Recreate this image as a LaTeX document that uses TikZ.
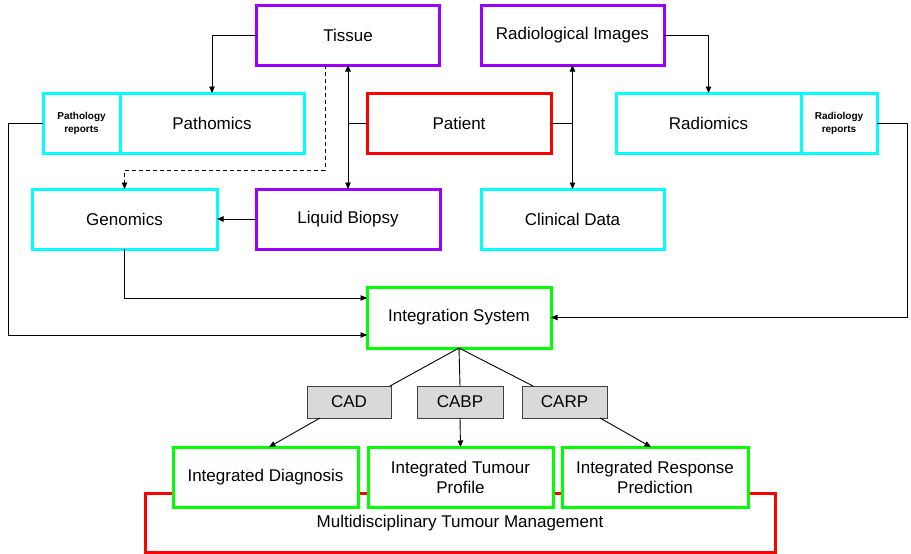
\documentclass[tikz,border=0pt]{standalone}
\usepackage{fontspec}
\setmainfont{Liberation Sans}
\usetikzlibrary{arrows.meta}
\definecolor{cyanb}{HTML}{00FFFF}
\definecolor{purpleb}{HTML}{9900FF}
\definecolor{greenb}{HTML}{00FF00}
\definecolor{redb}{HTML}{FF0000}
\definecolor{grayf}{HTML}{D9D9D9}
\definecolor{grayd}{HTML}{404040}
\begin{document}
\begin{tikzpicture}[x=1pt,y=-1pt,
  every node/.style={font=\fontsize{17}{20}\selectfont, align=center, inner sep=0pt, outer sep=0pt},
  box/.style={draw=#1, line width=3pt, fill=white, minimum width=184pt, minimum height=60pt},
  smallbox/.style={box=cyanb, font=\fontsize{10}{13}\selectfont\bfseries},
  algbox/.style={draw=grayd, line width=1pt, fill=grayf, minimum height=32pt},
  conn/.style={line width=0.9pt},
  arr/.style={conn, -{Triangle[length=6.5pt,width=5.5pt]}},
  darr/.style={conn, {Triangle[length=6.5pt,width=5.5pt]}-{Triangle[length=6.5pt,width=5.5pt]}}]
\useasboundingbox (0,0) rectangle (911,554);

% management frame behind the three outcome boxes
\draw[redb, line width=3pt] (145,493) rectangle (775,552);
\node (mdt) at (460,523) {Multidisciplinary Tumour Management};

% data sources
\node[box=purpleb, minimum width=183pt] (tissue) at (348,35) {Tissue};
\node[box=purpleb, minimum width=183pt] (radimg) at (572.5,35) {Radiological Images};
\node[box=redb] (patient) at (459,123) {Patient};
\node[box=purpleb] (liquid) at (348,219) {Liquid Biopsy};
\node[box=cyanb, minimum width=183pt] (clinical) at (572.5,219) {Clinical Data};
\node[box=cyanb, minimum width=185pt] (genomics) at (124.5,219) {Genomics};

% omics with attached reports
\node[box=cyanb] (pathomics) at (212,123) {Pathomics};
\node[smallbox, minimum width=77pt] (pathrep) at (81.5,123) {Pathology\\reports};
\node[box=cyanb, minimum width=185pt] (radiomics) at (708.5,123) {Radiomics};
\node[smallbox, minimum width=76pt] (radrep) at (839,123) {Radiology\\reports};

% integration and outputs
\node[box=greenb, minimum height=61pt] (integ) at (459,317.5) {Integration System};
\node[algbox, minimum width=84pt] (cad) at (349,402) {CAD};
\node[algbox, minimum width=86pt] (cabp) at (460,402) {CABP};
\node[algbox, minimum width=85pt] (carp) at (564.5,402) {CARP};
\node[box=greenb, minimum width=185pt] (idiag) at (265.5,477) {Integrated Diagnosis};
\node[box=greenb, minimum width=185pt] (itp) at (460.5,477) {Integrated Tumour\\Profile};
\node[box=greenb, minimum width=186pt] (irp) at (655,477) {Integrated Response\\Prediction};

% helper coordinates for routed connectors
\coordinate (dk) at (124.5,170);
\coordinate (lbus) at (8,0);
\coordinate (rbus) at (907,0);

% connectors
\draw[arr] (tissue.west) -| (pathomics.north);
\draw[arr] (radimg.east) -| (radiomics.north);
\draw[darr] (tissue.south) -- (liquid.north);
\draw[conn] (patient.west) -- (patient.west -| liquid.north);
\draw[darr] (radimg.south) -- (clinical.north);
\draw[conn] (patient.east) -- (patient.east -| clinical.north);
\draw[arr, dash pattern=on 4pt off 3pt] ([xshift=-23pt]tissue.south) |- (dk) -- (genomics.north);
\draw[arr] (liquid.west) -- (genomics.east);
\draw[arr] (genomics.south) |- ([yshift=19.5pt]integ.west);
\draw[arr] (pathrep.west) -- (pathrep.west -| lbus) |- ([yshift=-17.5pt]integ.west);
\draw[arr] (radrep.east) -- (radrep.east -| rbus) |- (integ.east);
\draw[conn] (integ.south) -- ([xshift=-1pt]cad.north east);
\draw[conn] (integ.south) -- (cabp.north);
\draw[conn] (integ.south) -- ([xshift=11pt]carp.north west);
\draw[arr] ([xshift=13pt]cad.south west) -- ([xshift=3.5pt]idiag.north);
\draw[arr] (cabp.south) -- (itp.north);
\draw[arr] ([xshift=-7pt]carp.south east) -- ([xshift=-4pt]irp.north);
\end{tikzpicture}
\end{document}
